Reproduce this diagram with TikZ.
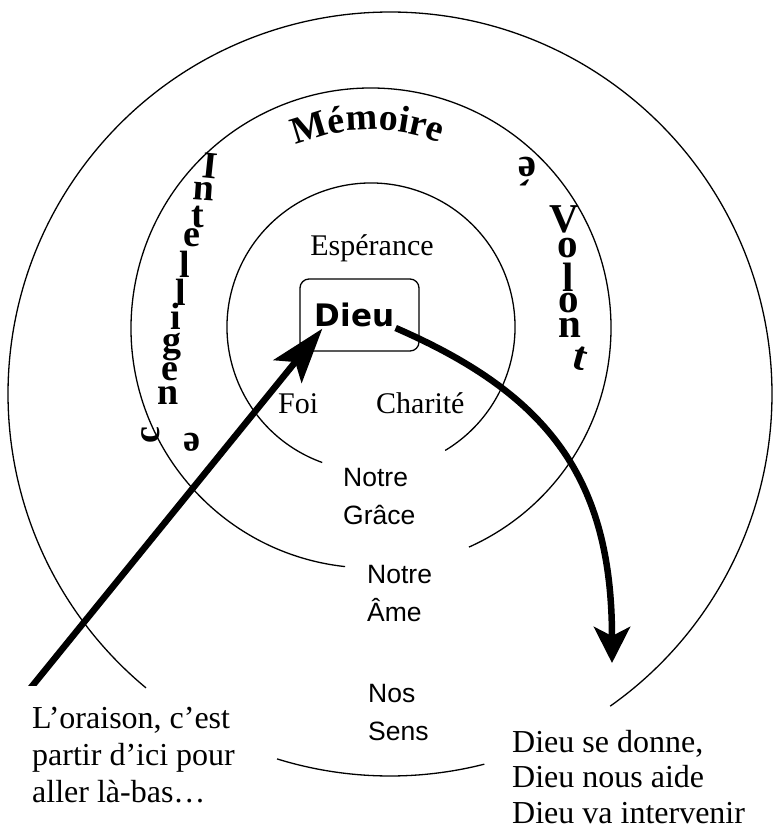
\documentclass[tikz,border=0pt]{standalone}
\usepackage{fontspec}
\setmainfont{Liberation Serif}
\newfontfamily\arialf{Liberation Sans}
\newfontfamily\djv{DejaVu Sans}
\usetikzlibrary{arrows.meta,decorations.text,calc}
\begin{document}
\begin{tikzpicture}[x=1pt,y=-1pt,
  ring/.style={line width=1.3pt},
  serif/.style={font=\fontsize{30}{34}\selectfont, inner sep=0pt},
  sans/.style={font=\arialf\fontsize{26.5}{38}\selectfont, inner sep=0pt, align=left, anchor=north west},
  body/.style={font=\fontsize{32}{37}\selectfont, inner sep=0pt, align=left, anchor=north west},
  arch/.style={font=\bfseries\fontsize{38}{40}\selectfont, inner sep=0pt},
  archv/.style={font=\bfseries\fontsize{41}{43}\selectfont, inner sep=0pt},
  bigarrow/.style={line width=6.5pt},
  dieubox/.style={draw, line width=1.3pt, rounded corners=9pt, minimum width=119pt, minimum height=72pt, inner sep=0pt, font=\djv\bfseries\fontsize{31}{32}\selectfont},
]
\useasboundingbox (0,0) rectangle (772,830);

% rings
\draw[ring] (390,394) ++(129.7:382) arc[start angle=129.7, end angle=414.8, radius=382];
\draw[ring] (390,394) ++(75.7:382) arc[start angle=75.7, end angle=107.2, radius=382];
\draw[ring] (371,328) ++(96.2:240) arc[start angle=96.2, end angle=425.9, radius=240];
\draw[ring] (371,327) ++(109.8:144) arc[start angle=109.8, end angle=419, radius=144];

% inner texts
\node[serif, anchor=base] (esperance) at (372,255) {Espérance};
\node[serif, anchor=base west] (foi) at (278,413) {Foi};
\node[serif, anchor=base west] (charite) at (376,413) {Charité};
\node[dieubox] (dieu) at (359.5,315) {Dieu\kern10pt};

\node[sans] (grace) at (343,459.4) {\strut Notre\\Grâce};
\node[sans] (ame) at (367,556.4) {\strut Notre\\Âme};
\node[sans] (sens) at (368,675.4) {\strut Nos\\Sens};
\node[body] (oraison) at (32,702.1) {\strut L’oraison, c’est\\partir d’ici pour\\aller là-bas…};
\node[body, font=\fontsize{32}{35.5}\selectfont] (donne) at (512,727.2) {\strut Dieu se donne,\\Dieu nous aide\\Dieu va intervenir};

% Memoire
\path[decorate, decoration={text along path, text align=center,
  text={|\bfseries\fontsize{38}{40}\selectfont|Mémoire}}]
  (371,328) ++(240:198) arc[start angle=240, end angle=298, radius=198];

% Intelligence
\foreach \x/\y/\r/\l [count=\k] in {210/166/-6/I, 204/191/-4/n, 198/217/0/t, 192/238/0/e, 185/264/0/l, 181/292/0/l, 176/316/0/i, 172/347/0/g, 170/372/0/e, 168/396/0/n, 151/435/90/c, 192/442/180/e}
  \node[arch, rotate=\r] (int\k) at (\x,\y) {\l};

% Volonte
\foreach \x/\y/\r/\l [count=\k] in {564/219/0/V, 568/248/0/o, 568/277/0/l, 569/303/0/o, 570/328/0/n, 580/358/-15/t, 527/172/180/é}
  \node[archv, rotate=\r] (vol\k) at (\x,\y) {\l};

% arrows
\coordinate (tail) at (29,690);
\coordinate (aide) at (612,663);
\begin{scope}
\clip (0,0) rectangle (772,685);
\draw[bigarrow, -{Stealth[length=55pt,width=36pt,inset=12pt]}] (tail) -- ($(dieu.south west)+(23,-23)$);
\end{scope}
\draw[bigarrow, -{Stealth[length=36pt,width=36pt,inset=9pt]}] ($(dieu.east)+(-24,13)$) .. controls (550,395) and (612,480) .. (aide);
\end{tikzpicture}
\end{document}
